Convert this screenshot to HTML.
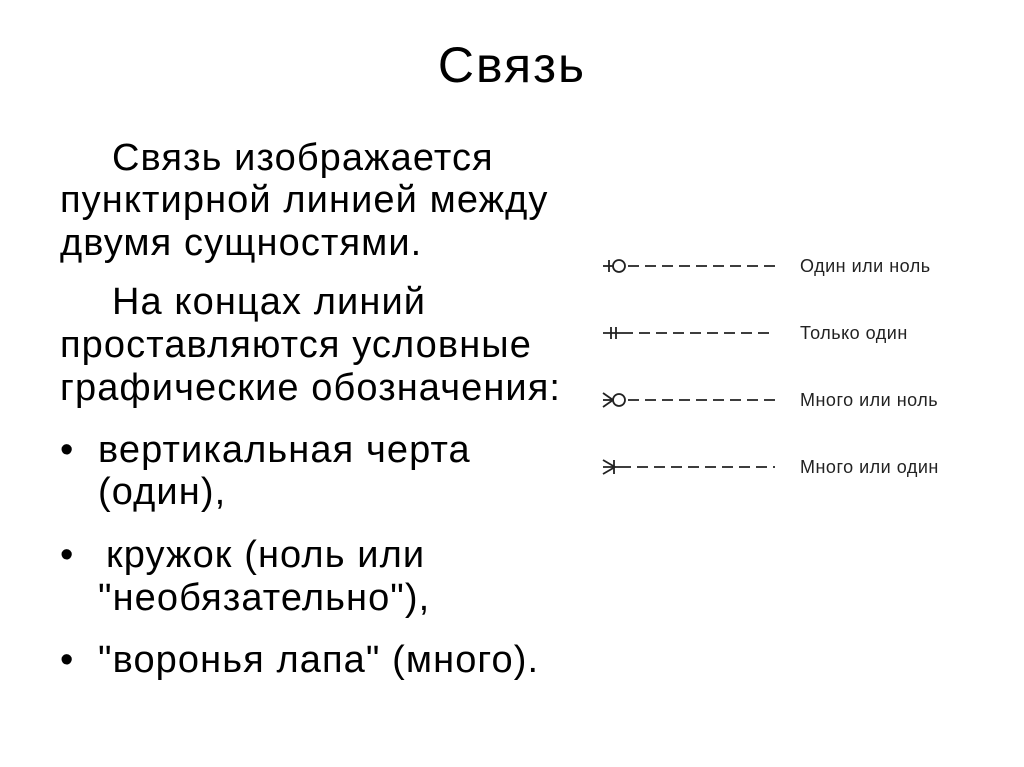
<!DOCTYPE html>
<html><head><meta charset="utf-8"><style>
body{margin:0;width:1024px;height:767px;background:#fff;position:relative;overflow:hidden;font-family:"Liberation Sans","DejaVu Sans",sans-serif;color:#000}
.t{position:absolute;white-space:nowrap;font-size:38px;line-height:38px;letter-spacing:1.1px}
.lbl{position:absolute;font-size:18px;color:#222;white-space:nowrap;line-height:18px;letter-spacing:0.5px}
</style></head><body>
<div class="t" style="left:0;width:1024px;text-align:center;top:38px;font-size:50px;line-height:54px;letter-spacing:2px">Связь</div>
<div class="t" style="left:112px;top:139px">Связь изображается</div>
<div class="t" style="left:60px;top:181px">пунктирной линией между</div>
<div class="t" style="left:60px;top:224px">двумя сущностями.</div>
<div class="t" style="left:112px;top:283px">На концах линий</div>
<div class="t" style="left:60px;top:326px">проставляются условные</div>
<div class="t" style="left:60px;top:369px">графические обозначения:</div>
<div class="t" style="left:60px;top:431px">•</div><div class="t" style="left:98px;top:431px">вертикальная черта</div>
<div class="t" style="left:98px;top:473px">(один),</div>
<div class="t" style="left:60px;top:536px">•</div><div class="t" style="left:106px;top:536px">кружок (ноль или</div>
<div class="t" style="left:98px;top:579px">"необязательно"),</div>
<div class="t" style="left:60px;top:641px">•</div><div class="t" style="left:98px;top:641px">"воронья лапа" (много).</div>
<svg style="position:absolute;left:0;top:0" width="1024" height="767" stroke="#222" stroke-width="1.8" fill="none">
<g stroke-dasharray="11,6"><line x1="628" y1="266" x2="775" y2="266"/><line x1="622" y1="333" x2="775" y2="333"/><line x1="628" y1="400" x2="775" y2="400"/><line x1="620" y1="467" x2="775" y2="467"/></g>
<line x1="603" y1="266" x2="613" y2="266"/><line x1="609" y1="260" x2="609" y2="272"/><circle cx="619" cy="266" r="6"/>
<line x1="603" y1="333" x2="622" y2="333"/><line x1="611" y1="327" x2="611" y2="339"/><line x1="616" y1="327" x2="616" y2="339"/>
<line x1="603" y1="393" x2="613" y2="400"/><line x1="603" y1="407" x2="613" y2="400"/><line x1="603" y1="400" x2="613" y2="400"/><circle cx="619" cy="400" r="6"/>
<line x1="603" y1="460" x2="615" y2="467"/><line x1="603" y1="474" x2="615" y2="467"/><line x1="603" y1="467" x2="620" y2="467"/><line x1="614" y1="460" x2="614" y2="474"/>
</svg>
<div class="lbl" style="left:800px;top:257px">Один или ноль</div>
<div class="lbl" style="left:800px;top:324px">Только один</div>
<div class="lbl" style="left:800px;top:391px">Много или ноль</div>
<div class="lbl" style="left:800px;top:458px">Много или один</div>
</body></html>
